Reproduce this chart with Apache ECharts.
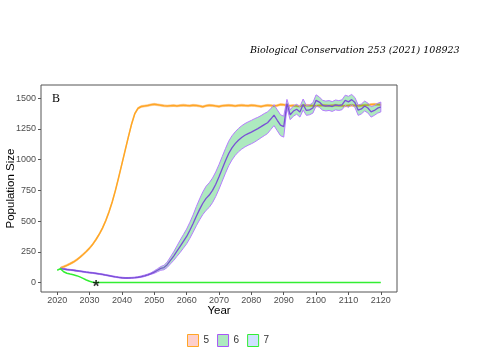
<!DOCTYPE html>
<html>
<head>
<meta charset="utf-8">
<script src="https://cdn.jsdelivr.net/npm/echarts@6/dist/echarts.min.js"></script>
<style>html,body{margin:0;padding:0;background:#fff;}#c{width:495px;height:355px;}</style>
</head>
<body>
<div id="c"></div>
<script>
// ---- data ----
const firstYear = 2020, lastYear = 2120;
const xTicks = [2020, 2030, 2040, 2050, 2060, 2070, 2080, 2090, 2100, 2110, 2120];
const yTicks = [0, 250, 500, 750, 1000, 1250, 1500];
const seriesNames = ['5', '6', '7'];

// scenario 5 (orange), 2020..2120
const s5 = [null,
 118,128,140,153,167,184,205,228,253,280,
 312,350,393,443,503,573,655,750,855,965,
 1075,1185,1290,1375,1418,1432,1436,1440,1446,1450,
 1446,1442,1438,1436,1438,1440,1437,1440,1443,1440,
 1438,1442,1440,1436,1430,1438,1442,1440,1436,1432,
 1438,1440,1442,1440,1437,1440,1443,1440,1438,1442,
 1440,1436,1432,1438,1442,1440,1436,1440,1448,1446,
 1440,1438,1440,1437,1435,1440,1442,1440,1438,1436,
 1440,1442,1440,1438,1440,1442,1440,1438,1436,1440,
 1442,1440,1438,1440,1442,1444,1448,1450,1448,1446];
const s5spread = 8;

// scenario 6 (purple) mean, 2020..2120
const s6 = [null,
 115,110,106,103,100,96,92,88,84,81,
 78,74,70,66,61,56,51,46,42,39,
 37,37,38,40,43,48,55,63,73,85,
 100,115,122,145,180,215,255,295,335,375,
 425,480,540,595,645,685,712,750,800,860,
 925,990,1050,1095,1130,1158,1180,1198,1212,1224,
 1238,1252,1268,1285,1300,1330,1362,1320,1280,1268,
 1455,1365,1395,1410,1388,1448,1400,1405,1420,1482,
 1468,1442,1436,1440,1432,1445,1440,1446,1482,1470,
 1488,1465,1402,1412,1436,1420,1388,1400,1418,1428];
// half-width of the scenario 6 band, 2020..2120
const s6spread = [null,
 4,4,4,4,4,4,4,4,4,4,
 4,4,4,4,4,4,4,4,4,4,
 4,4,4,4,4,6,6,6,6,10,
 12,15,18,22,28,35,42,50,55,60,
 65,70,78,85,92,98,100,100,100,100,
 100,100,100,98,96,95,95,95,95,95,
 95,92,90,90,88,85,85,85,85,85,
 35,40,42,40,42,45,40,40,42,45,
 42,40,40,40,40,40,40,40,42,45,
 42,40,42,40,40,40,42,40,40,40];

// scenario 7 (green), 2020..2120
const s7 = [100,
 113,88,76,69,63,56,46,34,21,10,
 2,0,0,0,0,0,0,0,0,0,
 0,0,0,0,0,0,0,0,0,0,
 0,0,0,0,0,0,0,0,0,0,
 0,0,0,0,0,0,0,0,0,0,
 0,0,0,0,0,0,0,0,0,0,
 0,0,0,0,0,0,0,0,0,0,
 0,0,0,0,0,0,0,0,0,0,
 0,0,0,0,0,0,0,0,0,0,
 0,0,0,0,0,0,0,0,0,0];

const extinctionMark = [2032, 0];

// ---- build ----
const years = [];
for (let y = firstYear; y <= lastYear; y++) years.push(y);
const pairs = arr => years.map((y, i) => [y, arr[i]]);
const band = (mean, spread) => {
  const out = [];
  years.forEach((y, i) => {
    if (mean[i] == null) return;
    const s = Array.isArray(spread) ? spread[i] : spread;
    out.push([y, mean[i] - s, mean[i] + s]);
  });
  return out;
};

function ribbonSeries(data, fill, stroke, lw, z) {
  return {
    type: 'custom', data: data, z: z, silent: true,
    encode: { x: 0, y: [1, 2] },
    clip: true,
    renderItem: function (params, api) {
      if (params.dataIndex !== 0) return null;
      const top = [], bot = [];
      for (const d of data) {
        top.push(api.coord([d[0], d[2]]));
        bot.push(api.coord([d[0], d[1]]));
      }
      return {
        type: 'polygon',
        shape: { points: top.concat(bot.reverse()) },
        style: { fill: fill, stroke: stroke, lineWidth: lw }
      };
    }
  };
}

const chart = echarts.init(document.getElementById('c'), null, { renderer: 'canvas' });
const axisLabelStyle = { color: '#4d4d4d', fontSize: 9, fontFamily: 'Liberation Sans, Arial, sans-serif' };

chart.setOption({
  animation: false,
  backgroundColor: '#fff',
  grid: { left: 41, right: 98, top: 85, bottom: 63, outerBoundsMode: 'none', containLabel: false,
          show: true, borderColor: '#555', borderWidth: 1, backgroundColor: 'transparent' },
  xAxis: {
    type: 'value', min: 2015, max: 2125,
    name: 'Year', nameLocation: 'middle', nameGap: 13, nameMoveOverlap: false,
    nameTextStyle: { color: '#000', fontSize: 11.5, fontFamily: 'Liberation Sans, Arial, sans-serif' },
    axisLine: { show: false, onZero: false },
    axisTick: { show: true, length: 3, lineStyle: { color: '#555' }, customValues: xTicks },
    axisLabel: Object.assign({ margin: 4, customValues: xTicks, formatter: v => String(v) }, axisLabelStyle),
    splitLine: { show: false }
  },
  yAxis: {
    type: 'value', min: -77, max: 1607,
    name: 'Population Size', nameLocation: 'middle', nameGap: 24, nameRotate: 90, nameMoveOverlap: false,
    nameTextStyle: { color: '#000', fontSize: 11.5, fontFamily: 'Liberation Sans, Arial, sans-serif' },
    axisLine: { show: false, onZero: false },
    axisTick: { show: true, length: 3, lineStyle: { color: '#555' }, customValues: yTicks },
    axisLabel: Object.assign({ margin: 5, customValues: yTicks, formatter: v => String(v) }, axisLabelStyle),
    splitLine: { show: false }
  },
  legend: {
    left: 182, top: 329, itemWidth: 11, itemHeight: 12, itemGap: 8,
    icon: 'rect',
    textStyle: { color: '#333', fontSize: 10, fontFamily: 'Liberation Sans, Arial, sans-serif' },
    data: [
      { name: '5', itemStyle: { color: 'rgba(248,118,109,0.35)', borderColor: '#FFA726', borderWidth: 1 } },
      { name: '6', itemStyle: { color: 'rgba(0,186,56,0.32)', borderColor: '#A855F7', borderWidth: 1 } },
      { name: '7', itemStyle: { color: 'rgba(97,156,255,0.3)', borderColor: '#33EE33', borderWidth: 1 } }
    ]
  },
  graphic: [
    { type: 'text', left: 250, top: 46, style: { text: 'Biological Conservation 253 (2021) 108923', fill: '#000', font: 'italic 9.5px "DejaVu Serif", serif' } },
    { type: 'text', left: 52, top: 93, style: { text: 'B', fill: '#000', font: '12px "Liberation Serif", serif' } }
  ],
  series: [
    ribbonSeries(band(s5, s5spread), 'rgba(248,150,120,0.35)', 'rgba(255,165,40,0.6)', 0.6, 1),
    { name: seriesNames[0], type: 'line', data: pairs(s5), showSymbol: false, symbol: 'none', z: 2,
      lineStyle: { color: '#FFA726', width: 1.5 }, itemStyle: { color: '#FFA726' } },
    ribbonSeries(band(s6, s6spread), 'rgba(0,186,56,0.32)', '#B57CFF', 1, 3),
    { name: seriesNames[1], type: 'line', data: pairs(s6), showSymbol: false, symbol: 'none', z: 4,
      lineStyle: { color: '#7A4FD6', width: 1.3 }, itemStyle: { color: '#7A4FD6' } },
    { name: seriesNames[2], type: 'line', data: pairs(s7), showSymbol: false, symbol: 'none', z: 5,
      lineStyle: { color: '#33EE33', width: 1.5 }, itemStyle: { color: '#33EE33' } },
    { type: 'scatter', data: [extinctionMark], symbol: 'circle', symbolSize: 1, silent: true, z: 6,
      itemStyle: { color: 'rgba(0,0,0,0)' },
      label: { show: true, position: 'inside', formatter: '*', color: '#000', fontSize: 17, fontWeight: 'bold', offset: [0, 5], fontFamily: 'Liberation Sans, Arial, sans-serif' } }
  ]
});
</script>
</body>
</html>
